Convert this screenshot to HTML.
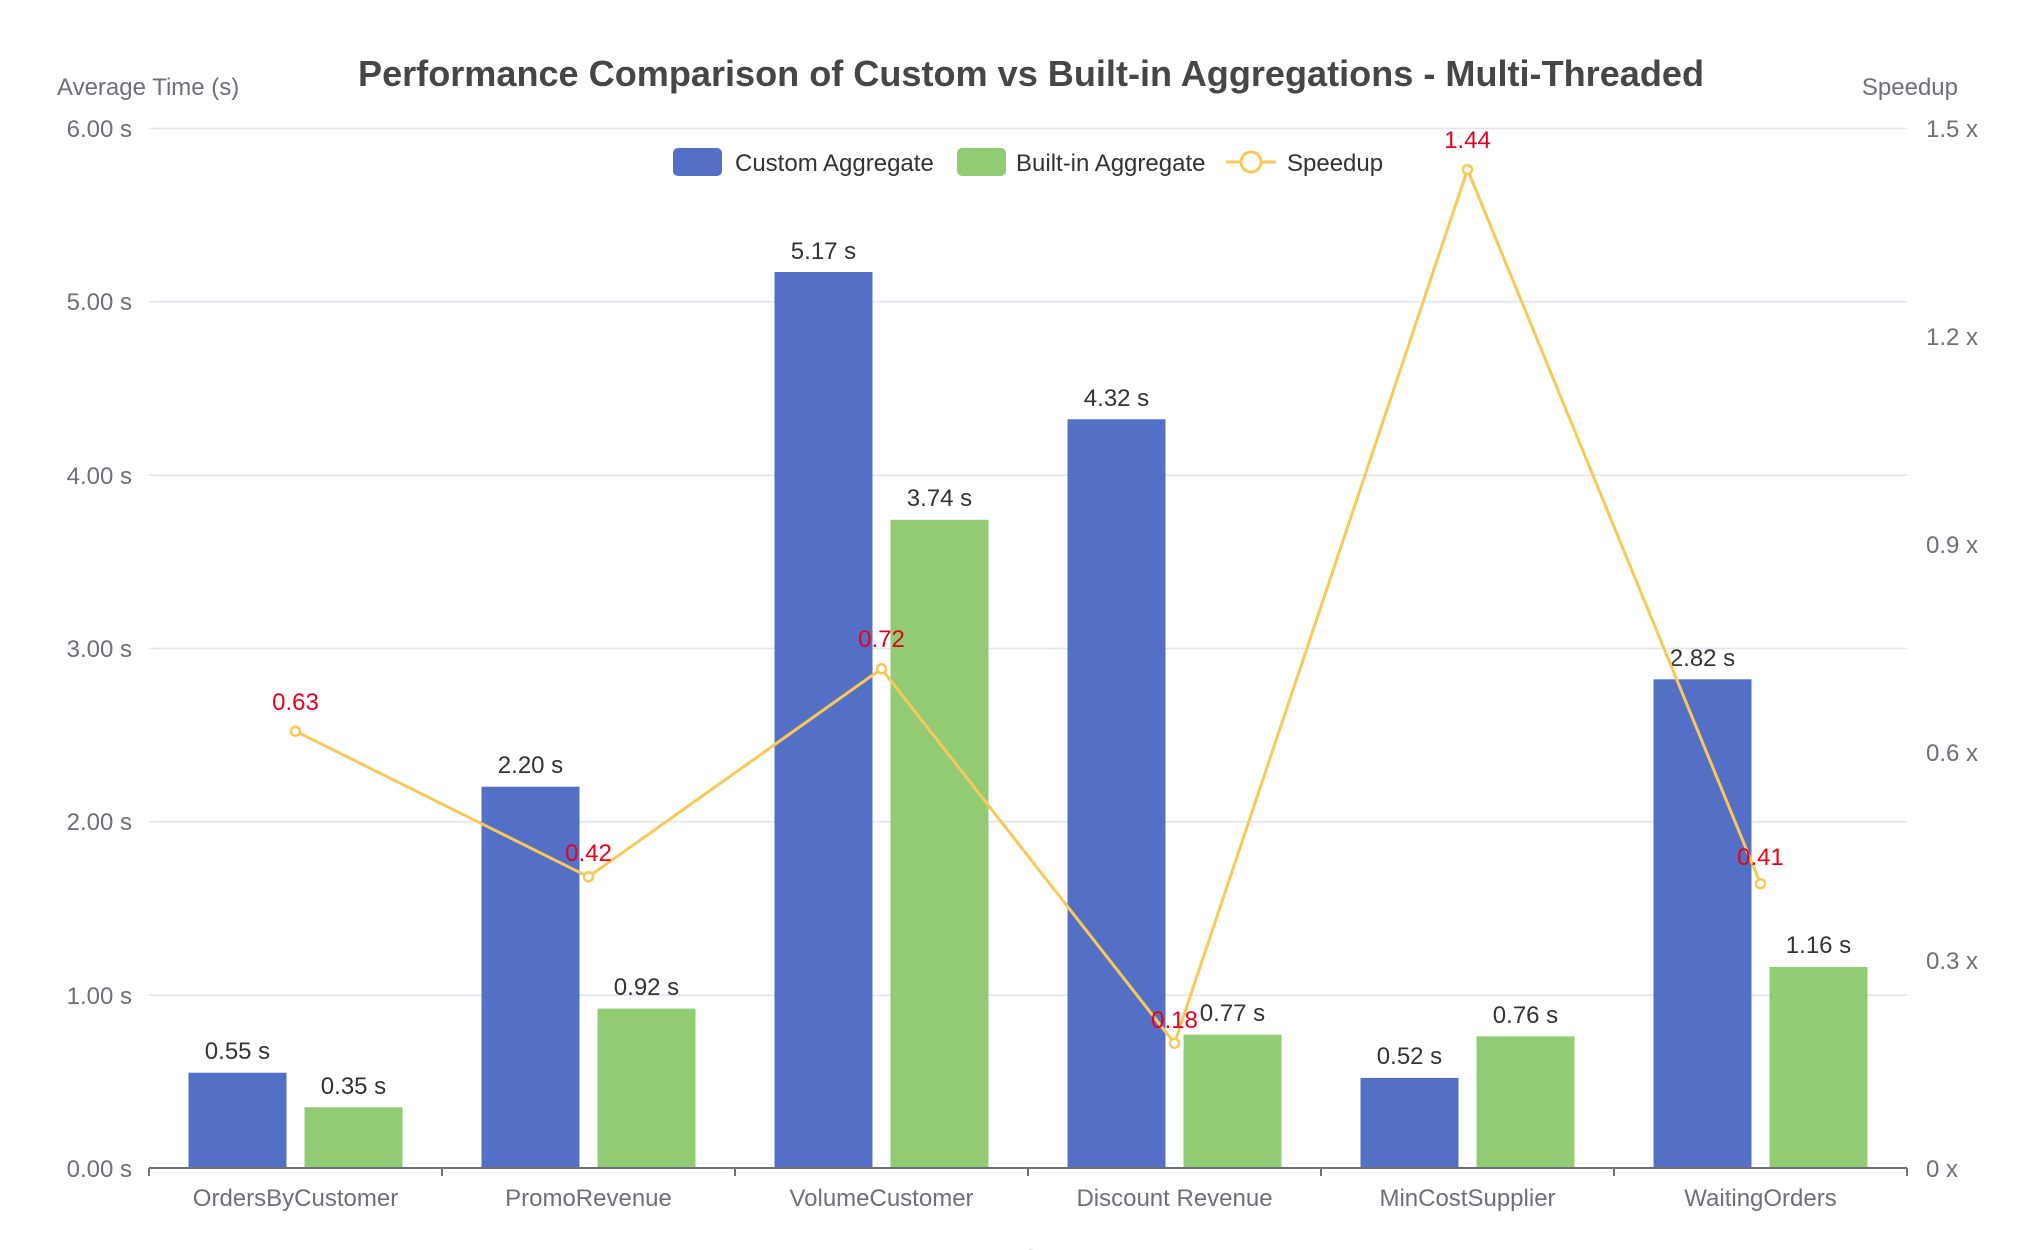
<!DOCTYPE html>
<html><head><meta charset="utf-8"><style>html,body{margin:0;padding:0;background:#fff}svg{display:block}</style></head>
<body>
<svg width="2044" height="1250" viewBox="0 0 2044 1250" xmlns="http://www.w3.org/2000/svg" font-family="Liberation Sans, sans-serif">
<text x="358" y="86" font-size="36" font-weight="bold" fill="#464646" textLength="1346" lengthAdjust="spacingAndGlyphs">Performance Comparison of Custom vs Built-in Aggregations - Multi-Threaded</text>
<text x="57" y="95" font-size="24" fill="#6e7079">Average Time (s)</text>
<text x="1958" y="95" font-size="24" fill="#6e7079" text-anchor="end">Speedup</text>
<g stroke="#e0e6f1" stroke-width="1.5">
<line x1="149" x2="1907" y1="128.5" y2="128.5"/>
<line x1="149" x2="1907" y1="301.8" y2="301.8"/>
<line x1="149" x2="1907" y1="475.2" y2="475.2"/>
<line x1="149" x2="1907" y1="648.5" y2="648.5"/>
<line x1="149" x2="1907" y1="821.8" y2="821.8"/>
<line x1="149" x2="1907" y1="995.2" y2="995.2"/>
</g>
<g font-size="24" fill="#6e7079" text-anchor="end">
<text x="132" y="137">6.00 s</text><text x="132" y="310">5.00 s</text><text x="132" y="484">4.00 s</text>
<text x="132" y="657">3.00 s</text><text x="132" y="830">2.00 s</text><text x="132" y="1004">1.00 s</text><text x="132" y="1177">0.00 s</text>
</g>
<g font-size="24" fill="#6e7079">
<text x="1926" y="137">1.5 x</text><text x="1926" y="345">1.2 x</text><text x="1926" y="553">0.9 x</text>
<text x="1926" y="761">0.6 x</text><text x="1926" y="969">0.3 x</text><text x="1926" y="1177">0 x</text>
</g>
<g fill="#5470c6">
<rect x="188.5" y="1072.7" width="98" height="95.3"/>
<rect x="481.5" y="786.7" width="98" height="381.3"/>
<rect x="774.5" y="272" width="98" height="896"/>
<rect x="1067.5" y="419.3" width="98" height="748.7"/>
<rect x="1360.5" y="1077.9" width="98" height="90.1"/>
<rect x="1653.5" y="679.3" width="98" height="488.7"/>
</g>
<g fill="#91cc75">
<rect x="304.5" y="1107.3" width="98" height="60.7"/>
<rect x="597.5" y="1008.6" width="98" height="159.4"/>
<rect x="890.5" y="519.8" width="98" height="648.2"/>
<rect x="1183.5" y="1034.6" width="98" height="133.4"/>
<rect x="1476.5" y="1036.3" width="98" height="131.7"/>
<rect x="1769.5" y="967" width="98" height="201"/>
</g>
<line x1="149" x2="1907" y1="1168" y2="1168" stroke="#6e7079" stroke-width="2"/>
<g stroke="#6e7079" stroke-width="2">
<line x1="149" x2="149" y1="1168" y2="1176"/><line x1="442" x2="442" y1="1168" y2="1176"/><line x1="735" x2="735" y1="1168" y2="1176"/>
<line x1="1028" x2="1028" y1="1168" y2="1176"/><line x1="1321" x2="1321" y1="1168" y2="1176"/><line x1="1614" x2="1614" y1="1168" y2="1176"/><line x1="1907" x2="1907" y1="1168" y2="1176"/>
</g>
<g font-size="24" fill="#6e7079" text-anchor="middle">
<text x="295.5" y="1206">OrdersByCustomer</text><text x="588.5" y="1206">PromoRevenue</text><text x="881.5" y="1206">VolumeCustomer</text>
<text x="1174.5" y="1206">Discount Revenue</text><text x="1467.5" y="1206">MinCostSupplier</text><text x="1760.5" y="1206">WaitingOrders</text>
</g>
<g font-size="24" fill="#333" text-anchor="middle">
<text x="237.5" y="1059">0.55 s</text><text x="353.5" y="1094">0.35 s</text>
<text x="530.5" y="773">2.20 s</text><text x="646.5" y="995">0.92 s</text>
<text x="823.5" y="259">5.17 s</text><text x="939.5" y="506">3.74 s</text>
<text x="1116.5" y="406">4.32 s</text><text x="1232.5" y="1021">0.77 s</text>
<text x="1409.5" y="1064">0.52 s</text><text x="1525.5" y="1023">0.76 s</text>
<text x="1702.5" y="666">2.82 s</text><text x="1818.5" y="953">1.16 s</text>
</g>
<polyline fill="none" stroke="#fac858" stroke-width="3" points="295.5,731.2 588.5,876.8 881.5,668.8 1174.5,1043.2 1467.5,169.6 1760.5,883.7"/>
<g fill="#fff" stroke="#fac858" stroke-width="2.5">
<circle cx="295.5" cy="731.2" r="4.5"/><circle cx="588.5" cy="876.8" r="4.5"/><circle cx="881.5" cy="668.8" r="4.5"/>
<circle cx="1174.5" cy="1043.2" r="4.5"/><circle cx="1467.5" cy="169.6" r="4.5"/><circle cx="1760.5" cy="883.7" r="4.5"/>
</g>
<g font-size="24" fill="#e6001f" text-anchor="middle">
<text x="295.5" y="710">0.63</text><text x="588.5" y="861">0.42</text><text x="881.5" y="647">0.72</text>
<text x="1174.5" y="1028">0.18</text><text x="1467.5" y="148">1.44</text><text x="1760.5" y="865">0.41</text>
</g>
<rect x="673" y="148" width="49" height="28" rx="5" fill="#5470c6"/>
<text x="735" y="171" font-size="24" fill="#333">Custom Aggregate</text>
<rect x="957" y="148" width="49" height="28" rx="5" fill="#91cc75"/>
<text x="1016" y="171" font-size="24" fill="#333">Built-in Aggregate</text>
<line x1="1226" x2="1276" y1="162" y2="162" stroke="#fac858" stroke-width="3"/>
<circle cx="1251" cy="162" r="10" fill="#fff" stroke="#fac858" stroke-width="3"/>
<text x="1287" y="171" font-size="24" fill="#333">Speedup</text>
<text x="1030" y="1268" font-size="26" font-weight="bold" fill="#464646" text-anchor="middle">Test Cases</text>
</svg>
</body></html>
